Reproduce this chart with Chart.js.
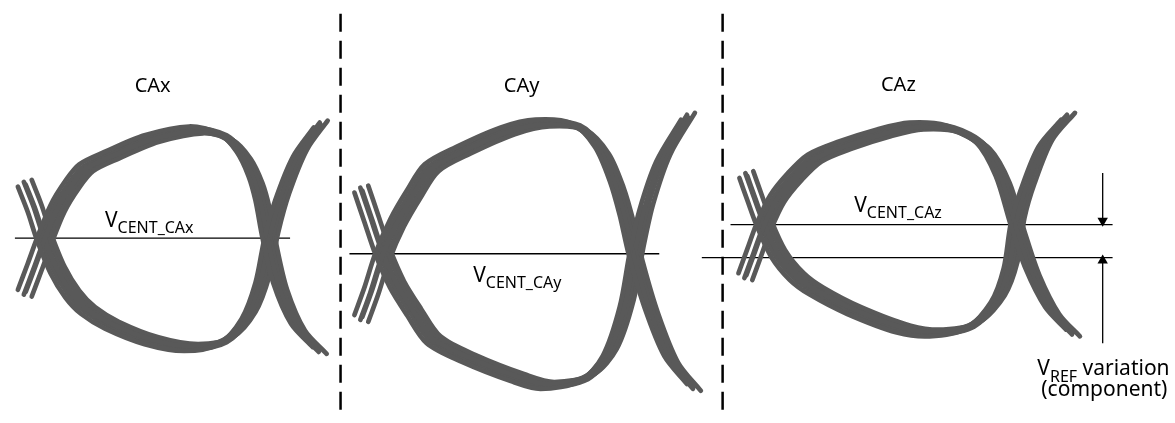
<!DOCTYPE html>
<html lang="en">
<head>
  <meta charset="UTF-8">
  <title>CA eye diagrams</title>
  <script src="https://cdn.jsdelivr.net/npm/chart.js"></script>
  <style>
    body {
      margin: 0;
      background: #ffffff;
    }

    .wrap {
      position: relative;
      width: 1175px;
      height: 423px;
    }
  </style>
</head>
<body>

  <div class="wrap">
    <canvas id="eyeChart"></canvas>
  </div>

  <script>
    // Eye traces (x = time, y = level, both in sheet units)
    const caxUpper = [[12,292],[22,265],[31,240],[45,205],[60,180],[74,163],[100,150],[140,133],[185,124],[215,131],[233,150],[245,175],[252,200],[259,238],[270,285],[288,327],[310,351]];
    const caxLower = [[12,186],[22,212],[31,240],[45,275],[60,300],[76,317],[100,332],[140,348],[180,355],[215,348],[238,322],[252,285],[261,240],[272,200],[290,155],[311,125]];

    const cayUpper = [[352,318],[362,290],[373,255],[388,220],[405,190],[423,163],[455,145],[500,125],[535,117],[572,121],[595,145],[610,180],[620,215],[629,255],[645,310],[665,360],[688,389]];
    const cayLower = [[352,192],[362,222],[373,255],[388,290],[405,318],[425,347],[460,366],[510,386],[540,394],[580,386],[603,360],[620,310],[630,255],[640,210],[657,160],[682,117]];

    const cazUpper = [[740,275],[749,250],[758,225],[772,195],[790,172],[810,153],[840,140],[880,127],[913,120],[950,123],[980,140],[1000,175],[1015,225],[1030,270],[1050,310],[1071,333]];
    const cazLower = [[741,177],[749,200],[758,225],[773,258],[792,282],[812,297],[850,317],[900,336],[933,340],[970,332],[995,305],[1008,270],[1015,225],[1025,190],[1043,145],[1066,117]];

    // spread of the bundle (each trace's shift from the first one)
    const traceShiftX = [0, 6, 8, 14];
    const traceShiftY = [0, 5, 2, 7];
    // traces that only run between the crossings (they fill the band)
    const fillShiftX = [3, 11];
    const fillShiftY = [3, 5];

    // reference levels
    const centLines = [
      [[9,239],[287,239]],
      [[347,255],[660,255]],
      [[732,225],[1118,225]],
      [[703,259],[1118,259]]
    ];
    const dividerX = [338, 724];
    const arrowLines = [
      [[1108,172],[1108,222]],
      [[1108,347],[1108,262]]
    ];
    const arrowTips = [[1108,221],[1108,262]];
    const arrowTurn = [180, 0];

    const labels = [
      { text: 'CAx', sub: '', x: 130, y: 88, size: 20 },
      { text: 'CAy', sub: '', x: 503, y: 89, size: 20 },
      { text: 'CAz', sub: '', x: 884, y: 87, size: 20 },
      { text: 'V', sub: 'CENT_CAx', x: 100, y: 227, size: 21 },
      { text: 'V', sub: 'CENT_CAy', x: 472, y: 284, size: 21 },
      { text: 'V', sub: 'CENT_CAz', x: 857, y: 212, size: 21 },
      { text: 'V', sub: 'REF', after: ' variation', x: 1042, y: 380, size: 21 },
      { text: '(component)', sub: '', x: 1046, y: 401, size: 21 }
    ];

    const traceColor = '#595959';

    function toPoints(path, dx, dy) {
      return path.map(p => ({ x: p[0] + dx, y: p[1] + dy }));
    }

    function traceSet(points) {
      return {
        data: points,
        borderColor: traceColor,
        borderWidth: 4.7,
        borderCapStyle: 'round',
        borderJoinStyle: 'round',
        tension: 0.3,
        pointRadius: 0,
        showLine: true
      };
    }

    const datasets = [];

    [[caxUpper, caxLower], [cayUpper, cayLower], [cazUpper, cazLower]].forEach(eye => {
      traceShiftX.forEach((dx, i) => {
        datasets.push(traceSet(toPoints(eye[0], dx, traceShiftY[i])));
        datasets.push(traceSet(toPoints(eye[1], dx, -traceShiftY[i])));
      });
      fillShiftX.forEach((dx, i) => {
        datasets.push(traceSet(toPoints(eye[0].slice(2, -2), dx, fillShiftY[i])));
        datasets.push(traceSet(toPoints(eye[1].slice(2, -2), dx, -fillShiftY[i])));
      });
    });

    centLines.forEach(line => {
      datasets.push({
        data: toPoints(line, 0, 0),
        borderColor: '#000',
        borderWidth: 1.3,
        pointRadius: 0,
        showLine: true
      });
    });

    dividerX.forEach(x => {
      datasets.push({
        data: [{ x: x, y: 8 }, { x: x, y: 423 }],
        borderColor: '#000',
        borderWidth: 2.5,
        borderDash: [18, 9],
        pointRadius: 0,
        showLine: true
      });
    });

    arrowLines.forEach(line => {
      datasets.push({
        data: toPoints(line, 0, 0),
        borderColor: '#000',
        borderWidth: 1.3,
        pointRadius: 0,
        showLine: true
      });
    });

    arrowTips.forEach((tip, i) => {
      datasets.push({
        data: [{ x: tip[0], y: tip[1] }],
        pointStyle: 'triangle',
        pointRadius: 6,
        pointRotation: arrowTurn[i],
        backgroundColor: '#000',
        borderColor: '#000',
        borderWidth: 0,
        showLine: false
      });
    });

    // Text labels with subscripts
    const textPlugin = {
      id: 'sheetText',
      afterDatasetsDraw(chart) {
        const ctx = chart.ctx;
        const xs = chart.scales.x;
        const ys = chart.scales.y;
        ctx.save();
        ctx.fillStyle = '#000';
        ctx.textBaseline = 'alphabetic';
        labels.forEach(l => {
          let px = xs.getPixelForValue(l.x);
          const py = ys.getPixelForValue(l.y);
          ctx.font = l.size + 'px "Noto Sans"';
          ctx.fillText(l.text, px, py);
          px += ctx.measureText(l.text).width;
          if (l.sub) {
            ctx.font = Math.round(l.size * 0.75) + 'px "Noto Sans"';
            ctx.fillText(l.sub, px, py + l.size * 0.3);
            px += ctx.measureText(l.sub).width;
          }
          if (l.after) {
            ctx.font = l.size + 'px "Noto Sans"';
            ctx.fillText(l.after, px, py);
          }
        });
        ctx.restore();
      }
    };

    new Chart(document.getElementById('eyeChart'), {
      type: 'scatter',
      data: { datasets: datasets },
      options: {
        responsive: true,
        maintainAspectRatio: false,
        animation: false,
        layout: { padding: 0 },
        plugins: {
          legend: { display: false },
          tooltip: { enabled: false }
        },
        scales: {
          x: { type: 'linear', min: 0, max: 1175, display: false },
          y: { type: 'linear', min: 0, max: 423, reverse: true, display: false }
        }
      },
      plugins: [textPlugin]
    });
  </script>

</body>
</html>
